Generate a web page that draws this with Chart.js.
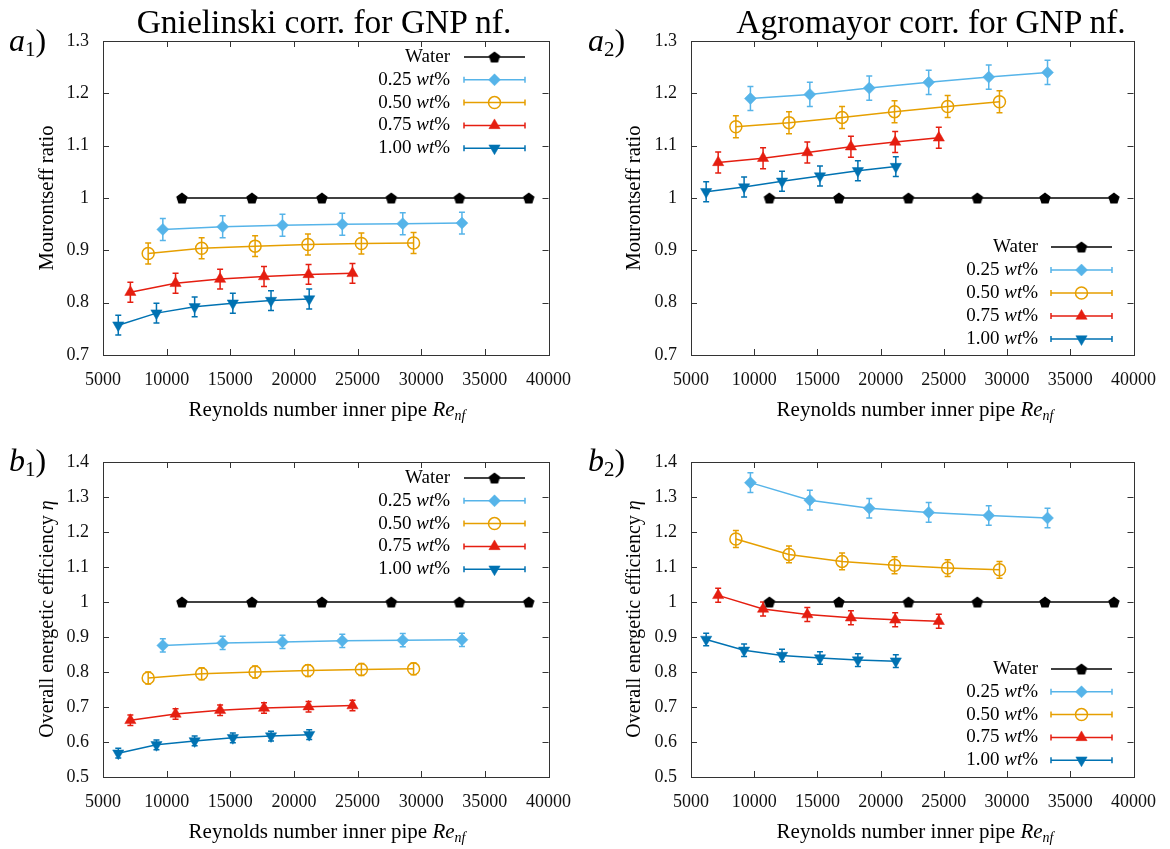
<!DOCTYPE html>
<html>
<head>
<meta charset="utf-8">
<script src="https://cdn.jsdelivr.net/npm/chart.js@4/dist/chart.umd.min.js"></script>
<style>
  body { margin: 0; background: #fff; }
  #page { position: relative; width: 1170px; height: 849px; font-family: "Liberation Serif", "DejaVu Serif", serif; color: #000; }
  canvas { position: absolute; }
  .txt { position: absolute; white-space: nowrap; transform: translate(-50%, -50%); line-height: 1; }
  .rot { transform: translate(-50%, -50%) rotate(-90deg); }
  .lab { position: absolute; white-space: nowrap; font-size: 32px; line-height: 1; }
  .lab sub { font-size: 21px; font-style: normal; vertical-align: -5px; }
  .txt sub { font-size: 14px; vertical-align: -4px; }
</style>
</head>
<body>
<div id="page">
  <canvas id="a1" width="585" height="420" style="left:0;top:0"></canvas>
  <canvas id="a2" width="585" height="420" style="left:585px;top:0"></canvas>
  <canvas id="b1" width="585" height="429" style="left:0;top:420px"></canvas>
  <canvas id="b2" width="585" height="429" style="left:585px;top:420px"></canvas>

  <div class="txt" style="left:324px;top:22px;font-size:33.5px">Gnielinski corr. for GNP nf.</div>
  <div class="txt" style="left:931px;top:22px;font-size:33.5px">Agromayor corr. for GNP nf.</div>

  <div class="lab" style="left:9px;top:24px"><i>a</i><sub>1</sub>)</div>
  <div class="lab" style="left:588px;top:24px"><i>a</i><sub>2</sub>)</div>
  <div class="lab" style="left:9px;top:444px"><i>b</i><sub>1</sub>)</div>
  <div class="lab" style="left:588px;top:444px"><i>b</i><sub>2</sub>)</div>

  <div class="txt rot" style="left:46px;top:198px;font-size:20.5px">Mourontseff ratio</div>
  <div class="txt rot" style="left:633px;top:198px;font-size:20.5px">Mourontseff ratio</div>
  <div class="txt rot" style="left:46px;top:619px;font-size:20px">Overall energetic efficiency <i>η</i></div>
  <div class="txt rot" style="left:633px;top:619px;font-size:20px">Overall energetic efficiency <i>η</i></div>

  <div class="txt" style="left:327px;top:411px;font-size:21px">Reynolds number inner pipe <i>Re</i><sub><i>nf</i></sub></div>
  <div class="txt" style="left:915px;top:411px;font-size:21px">Reynolds number inner pipe <i>Re</i><sub><i>nf</i></sub></div>
  <div class="txt" style="left:327px;top:833px;font-size:21px">Reynolds number inner pipe <i>Re</i><sub><i>nf</i></sub></div>
  <div class="txt" style="left:915px;top:833px;font-size:21px">Reynolds number inner pipe <i>Re</i><sub><i>nf</i></sub></div>
</div>

<script>
// series labels and colours
const seriesLabels = ['Water', '0.25 wt%', '0.50 wt%', '0.75 wt%', '1.00 wt%'];
const seriesColors = ['#000000', '#56b4e9', '#e69f00', '#e51e10', '#0072b2'];

// Reynolds numbers for each fluid
const reWater = [11200, 16700, 22200, 27650, 33000, 38450];
const re025 = [9700, 14400, 19100, 23800, 28550, 33200];
const re050 = [8550, 12750, 16950, 21100, 25300, 29400];
const re075 = [7150, 10700, 14200, 17650, 21150, 24600];
const re100 = [6200, 9200, 12200, 15200, 18200, 21200];

const water = [1, 1, 1, 1, 1, 1];

// a1) Mourontseff ratio, Gnielinski
const mourGn025 = [0.940, 0.945, 0.948, 0.950, 0.951, 0.952];
const mourGn050 = [0.894, 0.904, 0.908, 0.911, 0.913, 0.914];
const mourGn075 = [0.820, 0.837, 0.845, 0.850, 0.854, 0.856];
const mourGn100 = [0.757, 0.780, 0.792, 0.799, 0.804, 0.807];
// a2) Mourontseff ratio, Agromayor
const mourAg025 = [1.190, 1.198, 1.210, 1.221, 1.231, 1.240];
const mourAg050 = [1.136, 1.144, 1.154, 1.165, 1.175, 1.184];
const mourAg075 = [1.068, 1.076, 1.087, 1.098, 1.107, 1.115];
const mourAg100 = [1.012, 1.021, 1.032, 1.042, 1.052, 1.060];
// b1) overall efficiency, Gnielinski
const effGn025 = [0.876, 0.883, 0.886, 0.889, 0.891, 0.892];
const effGn050 = [0.783, 0.795, 0.800, 0.804, 0.807, 0.809];
const effGn075 = [0.662, 0.680, 0.691, 0.697, 0.701, 0.704];
const effGn100 = [0.568, 0.592, 0.603, 0.612, 0.617, 0.621];
// b2) overall efficiency, Agromayor
const effAg025 = [1.341, 1.291, 1.268, 1.256, 1.247, 1.240];
const effAg050 = [1.180, 1.136, 1.116, 1.105, 1.097, 1.092];
const effAg075 = [1.019, 0.980, 0.964, 0.955, 0.949, 0.945];
const effAg100 = [0.893, 0.862, 0.847, 0.840, 0.834, 0.831];

// error bar half-heights per series (water, 0.25, 0.50, 0.75, 1.00)
const errMourGn = [0, 0.021, 0.020, 0.019, 0.019];
const errMourAg = [0, 0.023, 0.021, 0.020, 0.019];
const errEffGn = [0, 0.019, 0.017, 0.015, 0.014];
const errEffAg = [0, 0.028, 0.024, 0.020, 0.018];

// axis ticks
const xTicks = [5000, 10000, 15000, 20000, 25000, 30000, 35000, 40000];
const yTicksMour = [0.7, 0.8, 0.9, 1, 1.1, 1.2, 1.3];
const yTicksEff = [0.5, 0.6, 0.7, 0.8, 0.9, 1, 1.1, 1.2, 1.3, 1.4];

const serif = '"Liberation Serif", "DejaVu Serif", serif';

function makePentagon(r, color) {
    const c = document.createElement('canvas');
    const s = Math.ceil(2 * r + 2);
    c.width = s;
    c.height = s;
    const g = c.getContext('2d');
    g.fillStyle = color;
    g.beginPath();
    for (let i = 0; i < 5; i++) {
        const a = -Math.PI / 2 + i * 2 * Math.PI / 5;
        const px = s / 2 + r * Math.cos(a);
        const py = s / 2 + 0.6 + r * Math.sin(a);
        if (i == 0) g.moveTo(px, py); else g.lineTo(px, py);
    }
    g.closePath();
    g.fill();
    return c;
}

const pentagon = makePentagon(6, '#000');

const markerStyles = [
    { pointStyle: pentagon, radius: 6, fill: '#000', rotation: 0 },
    { pointStyle: 'rectRot', radius: 6, fill: seriesColors[1], rotation: 0 },
    { pointStyle: 'circle', radius: 6, fill: 'rgba(0,0,0,0)', rotation: 0 },
    { pointStyle: 'triangle', radius: 6.5, fill: seriesColors[3], rotation: 0 },
    { pointStyle: 'triangle', radius: 6.5, fill: seriesColors[4], rotation: 180 }
];

function makeDatasets(seriesY, errs) {
    const xs = [reWater, re025, re050, re075, re100];
    let sets = [];
    for (let k = 0; k < 5; k++) {
        const m = markerStyles[k];
        sets.push({
            label: seriesLabels[k],
            data: xs[k].map((x, i) => ({ x: x, y: seriesY[k][i] })),
            err: errs[k],
            showLine: true,
            borderColor: seriesColors[k],
            backgroundColor: seriesColors[k],
            borderWidth: 1.5,
            pointStyle: m.pointStyle,
            pointRadius: m.radius,
            pointRotation: m.rotation,
            pointBackgroundColor: m.fill,
            pointBorderColor: seriesColors[k],
            pointBorderWidth: k == 2 ? 1.5 : 0.5
        });
    }
    return sets;
}

// inward ticks on all four sides plus the frame, and the error bars
const gnuplotFrame = {
    id: 'gnuplotFrame',
    beforeDatasetsDraw(chart) {
        const ctx = chart.ctx;
        const area = chart.chartArea;
        const xs = chart.scales.x;
        const ys = chart.scales.y;
        ctx.save();
        ctx.strokeStyle = '#333';
        ctx.lineWidth = 1;
        ctx.beginPath();
        xs.ticks.forEach(t => {
            const px = Math.round(xs.getPixelForValue(t.value)) + 0.5;
            ctx.moveTo(px, area.bottom); ctx.lineTo(px, area.bottom - 6);
            ctx.moveTo(px, area.top); ctx.lineTo(px, area.top + 6);
        });
        ys.ticks.forEach(t => {
            const py = Math.round(ys.getPixelForValue(t.value)) + 0.5;
            ctx.moveTo(area.left, py); ctx.lineTo(area.left + 6, py);
            ctx.moveTo(area.right, py); ctx.lineTo(area.right - 6, py);
        });
        ctx.stroke();
        ctx.strokeRect(Math.round(area.left) + 0.5, Math.round(area.top) + 0.5,
            Math.round(area.right - area.left), Math.round(area.bottom - area.top));

        // error bars
        chart.data.datasets.forEach(ds => {
            if (!ds.err) return;
            ctx.strokeStyle = ds.borderColor;
            ctx.lineWidth = 1.5;
            ctx.beginPath();
            ds.data.forEach(p => {
                const px = xs.getPixelForValue(p.x);
                const y0 = ys.getPixelForValue(p.y - ds.err);
                const y1 = ys.getPixelForValue(p.y + ds.err);
                ctx.moveTo(px, y0); ctx.lineTo(px, y1);
                ctx.moveTo(px - 3, y0); ctx.lineTo(px + 3, y0);
                ctx.moveTo(px - 3, y1); ctx.lineTo(px + 3, y1);
            });
            ctx.stroke();
        });
        ctx.restore();
    }
};

// gnuplot-like key: label right-aligned, then a line sample with the marker
const gnuplotKey = {
    id: 'gnuplotKey',
    afterDraw(chart, args, opts) {
        const ctx = chart.ctx;
        ctx.save();
        ctx.textBaseline = 'middle';
        chart.data.datasets.forEach((ds, k) => {
            const y = opts.y0 + k * opts.dy;
            const parts = ds.label.split(' ');
            ctx.fillStyle = '#000';
            if (parts.length == 1) {
                ctx.font = '19px ' + serif;
                ctx.textAlign = 'right';
                ctx.fillText(ds.label, opts.textRight, y);
            } else {
                ctx.textAlign = 'left';
                ctx.font = '19px ' + serif;
                const wNum = ctx.measureText(parts[0] + ' ').width;
                const wPct = ctx.measureText('%').width;
                ctx.font = 'italic 19px ' + serif;
                const wWt = ctx.measureText('wt').width;
                let x = opts.textRight - wNum - wWt - wPct;
                ctx.font = '19px ' + serif;
                ctx.fillText(parts[0] + ' ', x, y);
                ctx.font = 'italic 19px ' + serif;
                ctx.fillText('wt', x + wNum, y);
                ctx.font = '19px ' + serif;
                ctx.fillText('%', x + wNum + wWt, y);
            }
            ctx.strokeStyle = ds.borderColor;
            ctx.lineWidth = 1.5;
            ctx.beginPath();
            ctx.moveTo(opts.x0, y); ctx.lineTo(opts.x1, y);
            if (ds.err) {
                ctx.moveTo(opts.x0, y - 3); ctx.lineTo(opts.x0, y + 3);
                ctx.moveTo(opts.x1, y - 3); ctx.lineTo(opts.x1, y + 3);
            }
            ctx.stroke();
            ctx.fillStyle = ds.pointBackgroundColor;
            ctx.strokeStyle = ds.pointBorderColor;
            ctx.lineWidth = ds.pointBorderWidth;
            Chart.helpers.drawPoint(ctx, {
                pointStyle: ds.pointStyle,
                radius: ds.pointRadius,
                rotation: ds.pointRotation,
                borderWidth: ds.pointBorderWidth
            }, (opts.x0 + opts.x1) / 2, y);
        });
        ctx.restore();
    }
};

function fmt(v) {
    return String(Number(v.toFixed(2)));
}

function drawPanel(id, seriesY, errs, yTicks, box) {
    const yMin = yTicks[0];
    const yMax = yTicks[yTicks.length - 1];
    new Chart(document.getElementById(id), {
        type: 'scatter',
        data: { datasets: makeDatasets(seriesY, errs) },
        options: {
            responsive: false,
            animation: false,
            events: [],
            layout: { padding: { top: box.top, right: box.right, left: 0, bottom: 0 } },
            plugins: {
                legend: { display: false },
                tooltip: { enabled: false },
                gnuplotKey: box.key
            },
            scales: {
                x: {
                    type: 'linear',
                    min: xTicks[0],
                    max: xTicks[xTicks.length - 1],
                    afterBuildTicks: s => { s.ticks = xTicks.map(v => ({ value: v })); },
                    afterFit: s => { s.height = box.xHeight; },
                    grid: { display: false, drawTicks: false },
                    border: { display: false },
                    ticks: {
                        padding: 14,
                        color: '#111',
                        maxRotation: 0,
                        autoSkip: false,
                        font: { family: serif, size: 18 },
                        callback: v => String(v)
                    }
                },
                y: {
                    type: 'linear',
                    min: yMin,
                    max: yMax,
                    afterBuildTicks: s => { s.ticks = yTicks.map(v => ({ value: v })); },
                    afterFit: s => { s.width = box.left; },
                    grid: { display: false, drawTicks: false },
                    border: { display: false },
                    ticks: {
                        padding: 14,
                        color: '#111',
                        autoSkip: false,
                        font: { family: serif, size: 18 },
                        callback: v => fmt(v)
                    }
                }
            }
        },
        plugins: [gnuplotFrame, gnuplotKey]
    });
}

drawPanel('a1', [water, mourGn025, mourGn050, mourGn075, mourGn100], errMourGn, yTicksMour,
    { top: 41, right: 33, left: 103, xHeight: 65, key: { textRight: 450, x0: 464, x1: 525, y0: 57, dy: 22.8 } });
drawPanel('a2', [water, mourAg025, mourAg050, mourAg075, mourAg100], errMourAg, yTicksMour,
    { top: 41, right: 30, left: 106, xHeight: 65, key: { textRight: 453, x0: 466, x1: 527, y0: 247, dy: 23 } });
drawPanel('b1', [water, effGn025, effGn050, effGn075, effGn100], errEffGn, yTicksEff,
    { top: 42, right: 33, left: 103, xHeight: 72, key: { textRight: 450, x0: 464, x1: 525, y0: 58, dy: 22.8 } });
drawPanel('b2', [water, effAg025, effAg050, effAg075, effAg100], errEffAg, yTicksEff,
    { top: 42, right: 30, left: 106, xHeight: 72, key: { textRight: 453, x0: 466, x1: 527, y0: 249, dy: 22.8 } });
</script>
</body>
</html>
